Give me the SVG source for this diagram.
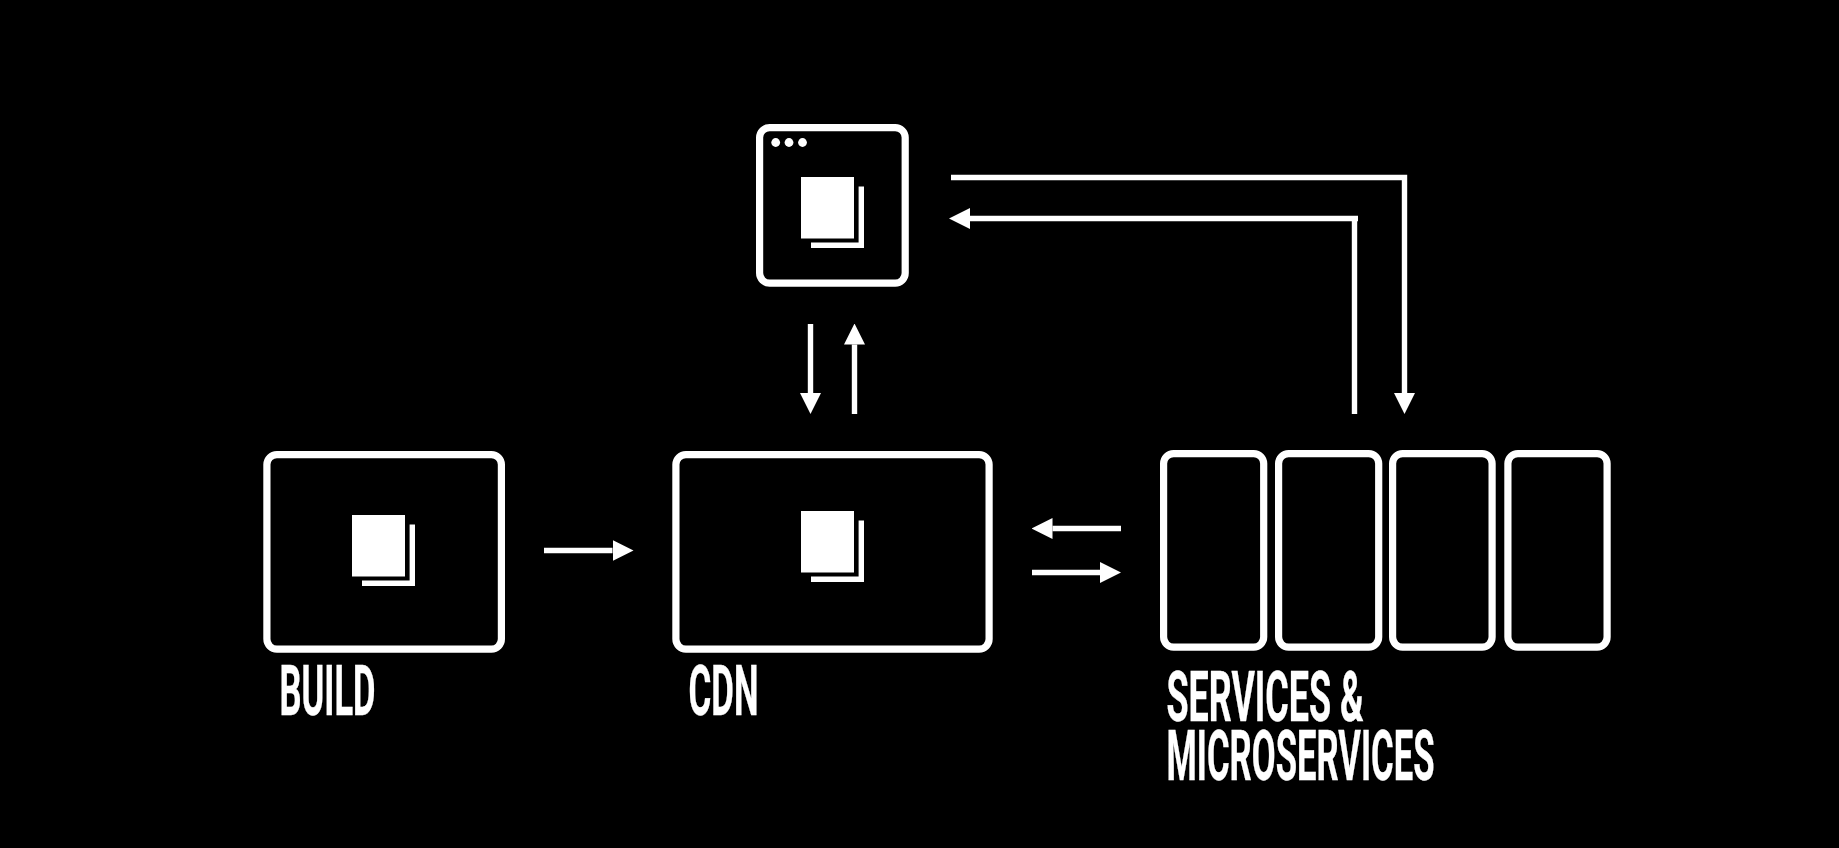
<svg xmlns="http://www.w3.org/2000/svg" width="1839" height="848" viewBox="0 0 1839 848">
<style>
.box{fill:none;stroke:#fff;stroke-width:7.2}
.line{fill:none;stroke:#fff;stroke-width:5.4}
.fill{fill:#fff}
.label{font-family:"Roboto","Liberation Sans",sans-serif;font-weight:700;font-size:70px;fill:#fff;stroke:#fff;stroke-width:.4}
</style>
<defs>
<g id="doc"><rect class="fill" x="0" y="0" width="53" height="61.5"/><path class="fill" d="M57.6 9.5H63V71H10V65.6H57.6Z"/></g>
<marker id="head" markerUnits="userSpaceOnUse" markerWidth="21" markerHeight="21" refX="0" refY="10.5" orient="auto"><path class="fill" d="M0 0L21 10.5L0 21Z"/></marker>
</defs>
<rect width="1839" height="848" fill="#000"/>
<g id="connectors">
<path class="line" d="M951 177.5H1404.5V393" marker-end="url(#head)"/>
<path class="line" d="M1354.5 414V218.5"/>
<path class="line" d="M1358 218.5H970" marker-end="url(#head)"/>
<path class="line" d="M810.5 324V393" marker-end="url(#head)"/>
<path class="line" d="M854.5 414V344.5" marker-end="url(#head)"/>
<path class="line" d="M544 550.5H612.5" marker-end="url(#head)"/>
<path class="line" d="M1121 528.5H1052.5" marker-end="url(#head)"/>
<path class="line" d="M1032 572.5H1100" marker-end="url(#head)"/>
</g>
<g id="browser">
<rect class="box" x="759.6" y="127.6" width="145.6" height="155.5" rx="10"/>
<circle class="fill" cx="775.7" cy="142.5" r="4.4"/><circle class="fill" cx="789" cy="142.5" r="4.4"/><circle class="fill" cx="802.5" cy="142.5" r="4.4"/>
<use href="#doc" x="801" y="177"/>
</g>
<g id="build">
<rect class="box" x="266.9" y="454.6" width="234.5" height="194.5" rx="10"/>
<use href="#doc" x="352" y="515"/>
<text class="label" x="279.5" y="715" textLength="96" lengthAdjust="spacingAndGlyphs">BUILD</text>
</g>
<g id="cdn">
<rect class="box" x="675.9" y="454.6" width="313.2" height="194.5" rx="10"/>
<use href="#doc" x="801" y="511"/>
<text class="label" x="688.5" y="715" textLength="70" lengthAdjust="spacingAndGlyphs">CDN</text>
</g>
<g id="services">
<rect class="box" x="1163.6" y="453.6" width="100.1" height="193.5" rx="10"/>
<rect class="box" x="1278.6" y="453.6" width="100.1" height="193.5" rx="10"/>
<rect class="box" x="1392.6" y="453.6" width="99.5" height="193.5" rx="10"/>
<rect class="box" x="1507.9" y="453.6" width="99.2" height="193.5" rx="10"/>
<text class="label" x="1166.5" y="721" textLength="197" lengthAdjust="spacingAndGlyphs">SERVICES &amp;</text>
<text class="label" x="1166.5" y="780" textLength="268" lengthAdjust="spacingAndGlyphs">MICROSERVICES</text>
</g>
</svg>
